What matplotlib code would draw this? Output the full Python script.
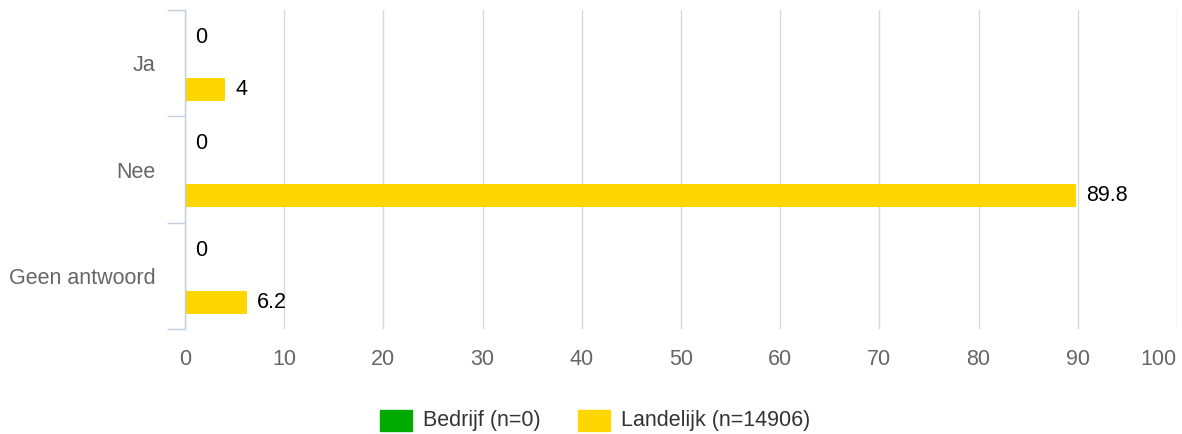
import matplotlib
matplotlib.use("Agg")
import matplotlib.pyplot as plt
from matplotlib.patches import Rectangle
import numpy as np

categories = ["Ja", "Nee", "Geen antwoord"]
series_names = ["Bedrijf (n=0)", "Landelijk (n=14906)"]
bedrijf = [0, 0, 0]
landelijk = [4, 89.8, 6.2]
x_ticks = [0, 10, 20, 30, 40, 50, 60, 70, 80, 90, 100]

colors = ["#00AA00", "#FFD700"]
W, H = 1182, 434
plt.rcParams['font.family'] = ['Liberation Sans', 'DejaVu Sans']
FS = 15.5

fig = plt.figure(figsize=(W / 100, H / 100), dpi=100)
ax = fig.add_axes([185 / W, 1 - 329.3 / H, (1177 - 185) / W, (329.3 - 10) / H])

y = np.arange(len(categories))
off = 0.245
bh = 0.216
for vals, d, c in [(bedrijf, -off, colors[0]), (landelijk, off, colors[1])]:
    bars = ax.barh(y + d, vals, height=bh, color=c, zorder=3)
    for b, v in zip(bars, vals):
        ax.annotate(f"{v:g}", (v, b.get_y() + b.get_height() / 2),
                    xytext=(7.5, 0), textcoords="offset points",
                    ha="left", va="center", fontsize=FS, color="#000000", zorder=4)

ax.set_xlim(0, 100)
ax.set_ylim(2.5, -0.5)
ax.set_xticks(x_ticks)
ax.set_xticklabels([str(t) for t in x_ticks])
ax.tick_params(axis="x", length=0, pad=14, labelsize=FS, labelcolor="#666666")
ax.get_xticklabels()[-1].set_ha("right")
ax.get_xticklabels()[-1].set_x(100)

ax.set_yticks([-0.5, 0.5, 1.5, 2.5])
ax.set_yticklabels([])
ax.tick_params(axis="y", which="major", length=13, width=1, color="#C0D0E0", direction="out")
ax.set_yticks(y, minor=True)
ax.set_yticklabels(categories, minor=True)
ax.tick_params(axis="y", which="minor", length=0, pad=21, labelsize=FS, labelcolor="#666666")

ax.grid(axis="x", color="#D8D8D8", linewidth=1, zorder=0)
ax.grid(axis="y", visible=False)
for s in ["top", "right", "bottom"]:
    ax.spines[s].set_visible(False)
ax.spines["left"].set_color("#C0D0E0")
ax.spines["left"].set_linewidth(1)
ax.spines["left"].set_zorder(5)

# legend
leg_y = 420.5
for x0, name, c in [(380, series_names[0], colors[0]), (578, series_names[1], colors[1])]:
    fig.patches.append(Rectangle((x0 / W, 1 - (leg_y + 10.5) / H), 32 / W, 21 / H,
                                 transform=fig.transFigure, color=c, figure=fig))
    fig.text((x0 + 43) / W, 1 - leg_y / H, name, ha="left", va="center",
             fontsize=FS, color="#333333")

fig.savefig("out.png", dpi=100)
